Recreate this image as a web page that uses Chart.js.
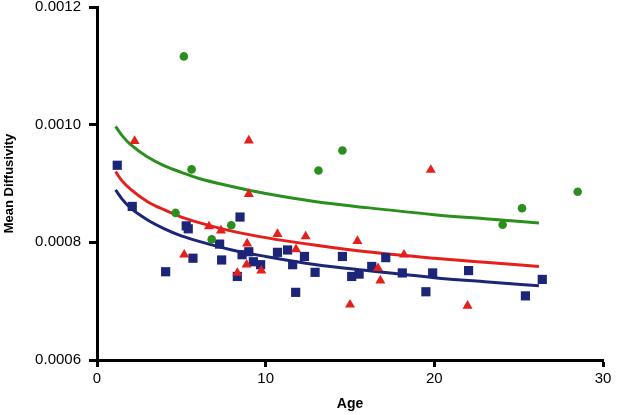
<!DOCTYPE html>
<html><head><meta charset="utf-8">
<script src="https://cdn.jsdelivr.net/npm/chart.js@4.4.1/dist/chart.umd.min.js"></script>
<style>html,body{margin:0;padding:0;background:#fff}canvas{display:block}</style>
</head><body>
<canvas id="c" width="636" height="415"></canvas>
<script>
// Green circles
const greenAges = [4.66, 5.15, 5.61, 6.8, 7.96, 13.13, 14.55, 24.05, 25.2, 28.5];
const greenMD   = [0.00085, 0.001116, 0.000924, 0.000805, 0.000829, 0.000922, 0.000956, 0.00083, 0.000858, 0.000886];
// Red triangles
const redAges = [2.23, 5.17, 6.64, 7.35, 8.32, 8.87, 8.9, 9.0, 9.0, 9.74, 10.7, 11.8, 12.37, 15.0, 15.44, 16.66, 16.8, 18.2, 19.79, 21.97];
const redMD   = [0.000972, 0.000779, 0.000827, 0.00082, 0.000748, 0.000762, 0.000798, 0.000882, 0.000973, 0.000752, 0.000814, 0.000788, 0.00081, 0.000694, 0.000802, 0.000756, 0.000735, 0.000779, 0.000923, 0.000692];
// Blue squares
const blueAges = [1.2, 2.09, 4.07, 5.29, 5.41, 5.69, 7.27, 7.39, 8.32, 8.48, 8.6, 9.0, 9.27, 9.7, 10.7, 11.3, 11.6, 11.78, 12.3, 12.93, 14.55, 15.1, 15.54, 16.29, 17.12, 18.1, 19.5, 19.9, 22.03, 25.4, 26.4];
const blueMD   = [0.000931, 0.000861, 0.00075, 0.000828, 0.000823, 0.000773, 0.000797, 0.00077, 0.000742, 0.000843, 0.000779, 0.000784, 0.000767, 0.000762, 0.000783, 0.000787, 0.000762, 0.000715, 0.000776, 0.000749, 0.000776, 0.000742, 0.000746, 0.000759, 0.000774, 0.000748, 0.000716, 0.000748, 0.000752, 0.000709, 0.000737];
// Fitted curves
const fitAges  = [1.1, 1.5, 2, 3, 4, 5, 6, 8, 10, 13, 16, 20, 23, 26.2];
const greenFit = [0.000997, 0.000981, 0.000966, 0.000945, 0.00093, 0.000919, 0.000909, 0.000895, 0.000883, 0.000869, 0.000859, 0.000847, 0.00084, 0.000833];
const redFit   = [0.00092, 0.000904, 0.00089, 0.000869, 0.000855, 0.000843, 0.000834, 0.000819, 0.000808, 0.000795, 0.000784, 0.000773, 0.000766, 0.000759];
const blueFit  = [0.000889, 0.000873, 0.000858, 0.000838, 0.000823, 0.000811, 0.000802, 0.000787, 0.000776, 0.000762, 0.000752, 0.00074, 0.000733, 0.000726];
// Axis ticks
const xTickValues = [0, 10, 20, 30];
const yTickValues = [0.0006, 0.0008, 0.0010, 0.0012];
const yTickLabels = ['0.0006', '0.0008', '0.0010', '0.0012'];

const GREEN = '#2b8f1f', RED = '#e41f1c', BLUE = '#1c2577';
const pts = (xs, ys) => xs.map((x, i) => ({x: x, y: ys[i]}));
const FONT = 'Liberation Sans, Arial, Helvetica, sans-serif';

new Chart(document.getElementById('c'), {
  type: 'scatter',
  data: {
    datasets: [
      {data: pts(redAges, redMD), pointStyle: 'triangle', pointRadius: 5.8, backgroundColor: RED, borderColor: RED, borderWidth: 0},
      {data: pts(greenAges, greenMD), pointStyle: 'circle', pointRadius: 4.3, backgroundColor: GREEN, borderColor: GREEN, borderWidth: 0},
      {data: pts(blueAges, blueMD), pointStyle: 'rect', pointRadius: 6.5, backgroundColor: BLUE, borderColor: BLUE, borderWidth: 0},
      {data: pts(fitAges, greenFit), showLine: true, pointRadius: 0, borderColor: GREEN, borderWidth: 3, cubicInterpolationMode: 'monotone', fill: false},
      {data: pts(fitAges, redFit), showLine: true, pointRadius: 0, borderColor: RED, borderWidth: 3, cubicInterpolationMode: 'monotone', fill: false},
      {data: pts(fitAges, blueFit), showLine: true, pointRadius: 0, borderColor: BLUE, borderWidth: 3, cubicInterpolationMode: 'monotone', fill: false}
    ]
  },
  options: {
    responsive: false,
    animation: false,
    devicePixelRatio: 1,
    plugins: {legend: {display: false}, tooltip: {enabled: false}},
    layout: {padding: {left: 0, right: 33, top: 7, bottom: 0}},
    scales: {
      x: {
        type: 'linear', min: 0, max: 30,
        afterBuildTicks: s => { s.ticks = xTickValues.map(v => ({value: v})); },
        afterFit: s => { s.height = 55; },
        ticks: {color: '#000', font: {family: FONT, size: 15}, padding: 3, maxRotation: 0},
        grid: {display: true, drawOnChartArea: false, drawTicks: true, tickLength: 7, tickWidth: 3, color: '#000'},
        border: {display: true, color: '#000', width: 3},
        title: {display: true, text: 'Age', color: '#000', font: {family: FONT, size: 14, weight: 'bold'}, padding: {top: 2, bottom: 2}}
      },
      y: {
        type: 'linear', min: 0.0006, max: 0.0012,
        afterBuildTicks: s => { s.ticks = yTickValues.map(v => ({value: v})); },
        afterFit: s => { s.width = 97; s.paddingTop = 0; s.paddingBottom = 0; },
        ticks: {color: '#000', font: {family: FONT, size: 15}, padding: 8, callback: (v, i) => yTickLabels[i]},
        grid: {display: true, drawOnChartArea: false, drawTicks: true, tickLength: 8, tickWidth: 3, color: '#000'},
        border: {display: true, color: '#000', width: 3},
        title: {display: true, text: 'Mean Diffusivity', color: '#000', font: {family: FONT, size: 13, weight: 'bold'}, padding: {top: 2, bottom: 2}}
      }
    }
  }
});
</script>
</body></html>
